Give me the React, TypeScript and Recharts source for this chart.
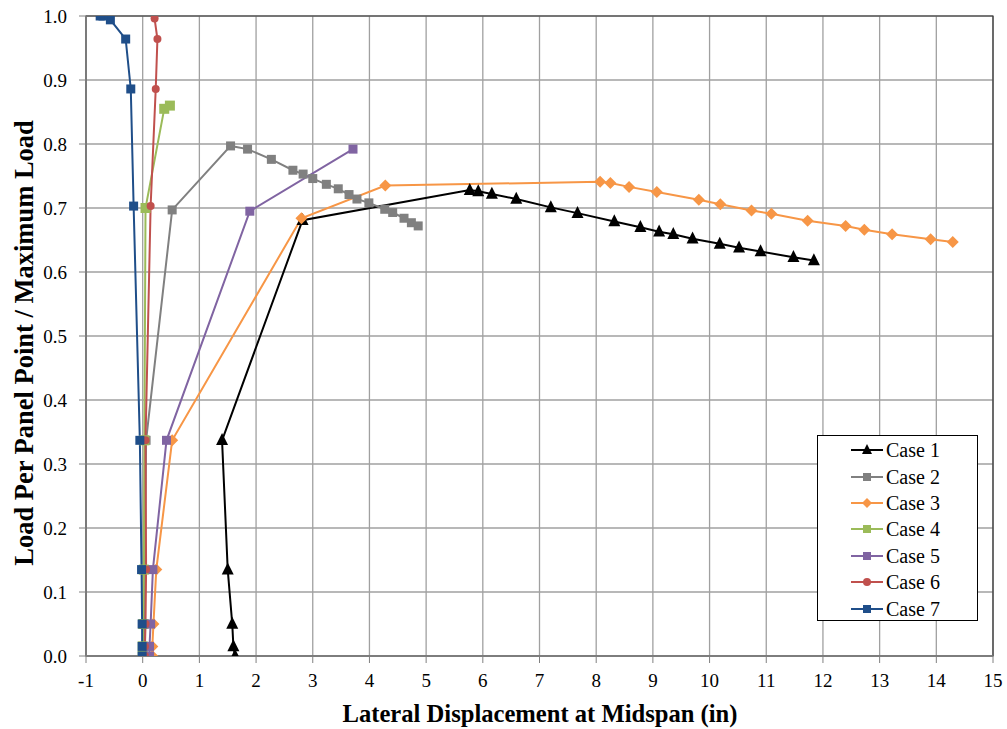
import React from 'react';
import { LineChart, Line, XAxis, YAxis, CartesianGrid, ReferenceArea } from 'recharts';

const FONT = '"Liberation Serif", "Times New Roman", Times, serif';

const majorX = [-1, 0, 1, 2, 3, 4, 5, 6, 7, 8, 9, 10, 11, 12, 13, 14, 15];
const minorX = Array.from({ length: 81 }, (_, i) => Math.round((-1 + i * 0.2) * 10) / 10);
const majorY = [0, 0.1, 0.2, 0.3, 0.4, 0.5, 0.6, 0.7, 0.8, 0.9, 1.0];
const minorY = Array.from({ length: 51 }, (_, i) => Math.round(i * 2) / 100);

const case1X = [1.63, 1.6, 1.58, 1.5, 1.4, 2.82, 5.77, 5.92, 6.16, 6.59, 7.2, 7.67, 8.32, 8.78, 9.11, 9.36, 9.7, 10.18, 10.52, 10.9, 11.48, 11.84];
const case1Y = [0, 0.015, 0.05, 0.135, 0.337, 0.681, 0.728, 0.726, 0.722, 0.714, 0.701, 0.692, 0.679, 0.67, 0.663, 0.659, 0.652, 0.644, 0.638, 0.632, 0.623, 0.618];

const case2X = [0.02, 0.02, 0.03, 0.04, 0.06, 0.52, 1.55, 1.85, 2.27, 2.65, 2.83, 3.0, 3.24, 3.45, 3.64, 3.78, 3.99, 4.27, 4.41, 4.61, 4.74, 4.86];
const case2Y = [0, 0.015, 0.05, 0.135, 0.337, 0.697, 0.797, 0.792, 0.776, 0.759, 0.753, 0.746, 0.737, 0.73, 0.721, 0.714, 0.708, 0.698, 0.693, 0.684, 0.677, 0.672];

const case3X = [0.17, 0.17, 0.19, 0.24, 0.52, 2.8, 4.28, 8.07, 8.25, 8.58, 9.07, 9.81, 10.19, 10.74, 11.09, 11.73, 12.4, 12.73, 13.22, 13.9, 14.29];
const case3Y = [0, 0.015, 0.05, 0.135, 0.337, 0.684, 0.735, 0.741, 0.739, 0.733, 0.725, 0.713, 0.706, 0.696, 0.691, 0.68, 0.672, 0.666, 0.659, 0.651, 0.647];

const case4X = [0.0, 0.0, 0.01, 0.02, 0.03, 0.05, 0.38, 0.48];
const case4Y = [0, 0.015, 0.05, 0.135, 0.337, 0.7, 0.855, 0.86];

const case5X = [0.12, 0.12, 0.14, 0.18, 0.42, 1.89, 3.71];
const case5Y = [0, 0.015, 0.05, 0.135, 0.337, 0.695, 0.792];

const case6X = [0.04, 0.04, 0.05, 0.06, 0.05, 0.14, 0.23, 0.26, 0.21];
const case6Y = [0, 0.015, 0.05, 0.135, 0.337, 0.703, 0.886, 0.964, 0.996];

const case7X = [-0.01, -0.01, -0.01, -0.02, -0.05, -0.16, -0.21, -0.3, -0.57, -0.7, -0.75];
const case7Y = [0, 0.015, 0.05, 0.135, 0.337, 0.703, 0.886, 0.964, 0.994, 1.0, 1.0];

const seriesNames = ['Case 1', 'Case 2', 'Case 3', 'Case 4', 'Case 5', 'Case 6', 'Case 7'];

type Shape = 'triangle' | 'square' | 'diamond' | 'circle';

const seriesDefs: { name: string; xs: number[]; ys: number[]; color: string; shape: Shape; size: number }[] = [
  { name: seriesNames[0], xs: case1X, ys: case1Y, color: '#000000', shape: 'triangle', size: 12 },
  { name: seriesNames[1], xs: case2X, ys: case2Y, color: '#808080', shape: 'square', size: 9 },
  { name: seriesNames[2], xs: case3X, ys: case3Y, color: '#F79646', shape: 'diamond', size: 12 },
  { name: seriesNames[3], xs: case4X, ys: case4Y, color: '#9BBB59', shape: 'square', size: 10 },
  { name: seriesNames[4], xs: case5X, ys: case5Y, color: '#8064A2', shape: 'square', size: 9 },
  { name: seriesNames[5], xs: case6X, ys: case6Y, color: '#C0504D', shape: 'circle', size: 8 },
  { name: seriesNames[6], xs: case7X, ys: case7Y, color: '#1F4E89', shape: 'square', size: 9 },
];

function markerEl(shape: Shape, cx: number, cy: number, size: number, color: string, key?: any) {
  const h = size / 2;
  switch (shape) {
    case 'triangle':
      return <polygon key={key} points={`${cx},${cy - size * 0.6} ${cx - h},${cy + size * 0.4} ${cx + h},${cy + size * 0.4}`} fill={color} />;
    case 'square':
      return <rect key={key} x={cx - h} y={cy - h} width={size} height={size} fill={color} />;
    case 'diamond':
      return <polygon key={key} points={`${cx},${cy - h} ${cx + h},${cy} ${cx},${cy + h} ${cx - h},${cy}`} fill={color} />;
    default:
      return <circle key={key} cx={cx} cy={cy} r={h} fill={color} />;
  }
}

const renderXTick = (props: any) => {
  const { x, y, payload, index } = props;
  return (
    <text key={`xt-${index}`} x={x} y={y} dy="0.71em" textAnchor="middle" style={{ fontFamily: FONT, fontSize: 19, fill: '#000' }}>
      {String(payload.value)}
    </text>
  );
};

const renderYTick = (props: any) => {
  const { x, y, payload, index } = props;
  return (
    <text key={`yt-${index}`} x={x} y={y} dy="0.355em" textAnchor="end" style={{ fontFamily: FONT, fontSize: 19, fill: '#000' }}>
      {Number(payload.value).toFixed(1)}
    </text>
  );
};

const LegendBox = () => (
  <div
    style={{
      position: 'absolute',
      left: 817,
      top: 435,
      width: 161,
      height: 186,
      border: '1px solid #000',
      background: '#fff',
      boxSizing: 'border-box',
      paddingTop: 1,
      fontFamily: FONT,
      fontSize: 20,
    }}
  >
    {seriesDefs.map((s) => (
      <div key={s.name} style={{ display: 'flex', alignItems: 'center', height: 26.4, paddingLeft: 33 }}>
        <svg width={32} height={14} style={{ display: 'block' }}>
          <line x1={0} y1={7} x2={32} y2={7} stroke={s.color} strokeWidth={2} />
          {markerEl(s.shape, 16, 7, s.shape === 'triangle' ? 10 : s.shape === 'diamond' ? 10 : 8, s.color)}
        </svg>
        <span style={{ marginLeft: 3, color: '#000', lineHeight: '22px' }}>{s.name}</span>
      </div>
    ))}
  </div>
);

export default function App() {
  return (
    <div style={{ position: 'absolute', left: 0, top: 0, width: 1007, height: 729, background: '#fff', fontFamily: FONT }}>
      <LineChart width={1007} height={729} margin={{ top: 16, right: 14, bottom: 23, left: 26 }} style={{ fontFamily: FONT }}>
        <CartesianGrid stroke="#a0a0a0" strokeWidth={1.3} />
        <XAxis
          xAxisId="minor"
          type="number"
          dataKey="x"
          domain={[-1, 15]}
          ticks={minorX}
          allowDataOverflow
          height={0}
          tick={false}
          axisLine={false}
          tickSize={5}
          tickLine={{ stroke: '#808080' }}
        />
        <XAxis
          type="number"
          dataKey="x"
          domain={[-1, 15]}
          ticks={majorX}
          allowDataOverflow
          interval={0}
          height={50}
          tickSize={7}
          tickMargin={11}
          tick={renderXTick}
          axisLine={{ stroke: '#808080', strokeWidth: 1.5 }}
          tickLine={{ stroke: '#808080' }}
          label={{
            content: () => (
              <text x={540} y={722} textAnchor="middle" fontFamily={FONT} fontSize={24.6} fontWeight="bold" fill="#000">
                Lateral Displacement at Midspan (in)
              </text>
            ),
          }}
        />
        <YAxis
          yAxisId="minor"
          type="number"
          domain={[0, 1]}
          ticks={minorY}
          allowDataOverflow
          width={0}
          tick={false}
          axisLine={false}
          tickSize={5}
          tickLine={{ stroke: '#808080' }}
        />
        <YAxis
          type="number"
          domain={[0, 1]}
          ticks={majorY}
          allowDataOverflow
          interval={0}
          width={60}
          tickSize={7}
          tickMargin={12}
          tick={renderYTick}
          axisLine={{ stroke: '#808080', strokeWidth: 1.5 }}
          tickLine={{ stroke: '#808080' }}
          label={{
            content: () => (
              <text
                x={24}
                y={343}
                dy="0.355em"
                textAnchor="middle"
                fontFamily={FONT}
                fontSize={26.5}
                fontWeight="bold"
                fill="#000"
                transform="rotate(-90 24 343)"
              >
                Load Per Panel Point / Maximum Load
              </text>
            ),
          }}
        />
        <ReferenceArea x1={-1} x2={15} y1={0} y2={1} fill="none" stroke="#333" strokeWidth={1.2} ifOverflow="visible" />
        {seriesDefs.map((s) => (
          <Line
            key={s.name}
            name={s.name}
            data={s.xs.map((x, i) => ({ x, y: s.ys[i] }))}
            dataKey="y"
            type="linear"
            stroke={s.color}
            strokeWidth={2}
            isAnimationActive={false}
            dot={(p: any) => markerEl(s.shape, p.cx, p.cy, s.size, s.color, `${s.name}-${p.index}`)}
            activeDot={false}
          />
        ))}
      </LineChart>
      <LegendBox />
    </div>
  );
}
